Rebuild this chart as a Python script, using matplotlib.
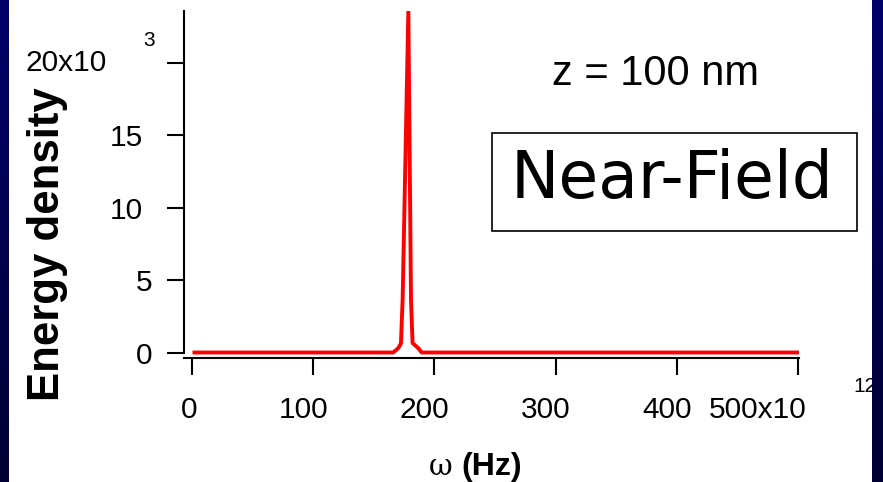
import numpy as np
import matplotlib
matplotlib.use("Agg")
import matplotlib.pyplot as plt
from matplotlib.patches import Rectangle
from matplotlib.transforms import ScaledTranslation

plt.rcParams['font.family'] = ['Liberation Sans', 'DejaVu Sans']

# frequency in units of 1e12 Hz, energy density in units of 1e3
omega = [2, 166, 170.2, 172.4, 173.8, 178.5, 180.7, 182, 186.7, 189.5, 500]
energy = [0, 0, 0.3, 0.63, 3.7, 23.6, 3.6, 0.65, 0.3, 0, 0]

yticks = [0, 5, 10, 15, 20]
ytick_labels = ['0', '5', '10', '15', '']
xticks = [0, 100, 200, 300, 400, 500]
xtick_labels = ['0', '100', '200', '300', '400', '']

W, H = 883, 482
fig = plt.figure(figsize=(W / 100, H / 100), dpi=100)
fig.patch.set_facecolor('white')

def px(x, y):
    return x / W, 1 - y / H

ax = fig.add_axes([184 / W, 1 - 358 / H, (798.6 - 184) / W, (358 - 11) / H])
ax.plot(omega, energy, color='#ff0000', lw=2.8, solid_joinstyle='round')
ax.set_xlim(-6.6, 500.5)
ax.set_ylim(-0.38, 23.6)

for s in ['top', 'right']:
    ax.spines[s].set_visible(False)
ax.spines['left'].set_linewidth(1.5)
ax.spines['bottom'].set_linewidth(1.5)
ax.spines['left'].set_bounds(0, 23.6)

ax.set_yticks(yticks)
ax.set_yticklabels(ytick_labels)
ax.set_xticks(xticks)
ax.set_xticklabels(xtick_labels)
ax.tick_params(axis='both', length=12, width=1.5, labelsize=21.5, color='black')
ax.tick_params(axis='y', pad=11)
ax.tick_params(axis='x', pad=15)
fig.canvas.draw()

# the original labels sit a little left of their ticks
for tick, dx in zip(ax.xaxis.get_major_ticks(), [-3, -10, -10, -10, -10, 0]):
    lab = tick.label1
    lab.set_transform(lab.get_transform() + ScaledTranslation(dx / 100, 0, fig.dpi_scale_trans))
for tick, dx in zip(ax.yaxis.get_major_ticks(), [0, 0, -9, -9, 0]):
    lab = tick.label1
    lab.set_transform(lab.get_transform() + ScaledTranslation(dx / 100, 0, fig.dpi_scale_trans))

# exponent-style labels
fig.text(*px(107, 63), '20x10', fontsize=21.5, ha='right', va='center')
fig.text(*px(149, 40), '3', fontsize=15, ha='center', va='center')
fig.text(*px(807, 410), '500x10', fontsize=21.5, ha='right', va='center')
fig.text(*px(853, 386), '12', fontsize=15, ha='left', va='center')

fig.text(*px(48, 244), 'Energy density', fontsize=31.5, fontweight='bold',
         rotation=90, ha='center', va='center')
fig.text(*px(441, 467), '\u03c9', fontsize=21, family='DejaVu Serif',
         ha='center', va='center')
fig.text(*px(492, 467), '(Hz)', fontsize=23, fontweight='bold',
         ha='center', va='center')

fig.text(*px(656, 74), 'z = 100 nm', fontsize=30, ha='center', va='center')
fig.text(*px(672, 180), 'Near-Field', fontsize=46.5, family='DejaVu Sans',
         ha='center', va='center')
fig.patches.append(Rectangle(px(492, 231), (857 - 492) / W, (231 - 133) / H,
                             transform=fig.transFigure, fill=False,
                             edgecolor='black', lw=1.2))

# dark blue slide border on the left and right
grad = np.linspace(0, 1, 256).reshape(-1, 1)
cmap = matplotlib.colors.LinearSegmentedColormap.from_list('b', ['#00006a', '#000033'])
for x0, x1 in [(0, 9), (872, 883)]:
    bax = fig.add_axes([x0 / W, 0, (x1 - x0) / W, 1], zorder=10)
    bax.imshow(grad, aspect='auto', cmap=cmap, extent=[0, 1, 0, 1])
    bax.axis('off')

fig.savefig('out.png', dpi=100)
